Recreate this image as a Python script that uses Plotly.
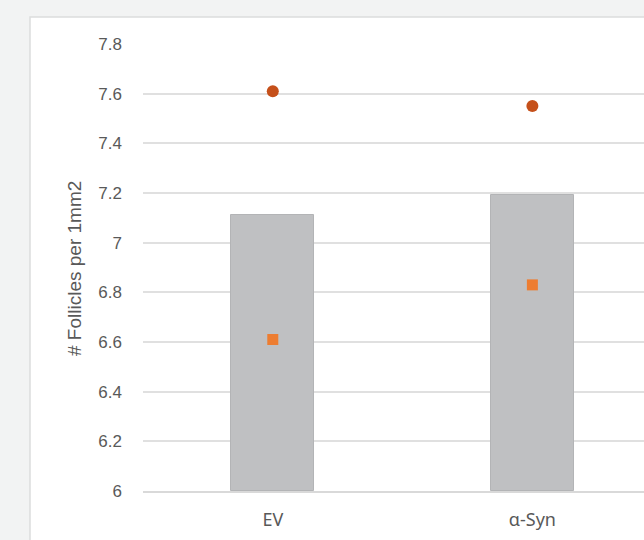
import plotly.graph_objects as go

# Follicle density per group
groups = ["EV", "α-Syn"]
bar_values = [7.11, 7.19]
circle_values = [7.61, 7.55]
square_values = [6.61, 6.83]

y_ticks = [6, 6.2, 6.4, 6.6, 6.8, 7, 7.2, 7.4, 7.6, 7.8]

W, H = 644, 540
L, R, T, B = 143, 0, 44, 49
plot_w = W - L - R
plot_h = H - T - B

fig = go.Figure()

fig.add_trace(go.Bar(
    x=groups, y=[v - 6 for v in bar_values], base=6,
    width=0.32,
    marker=dict(color="#bfc0c2", line=dict(color="#b3b4b6", width=1)),
    showlegend=False, hoverinfo="skip",
))
fig.add_trace(go.Scatter(
    x=groups, y=square_values, mode="markers",
    marker=dict(symbol="square", size=11, color="#ed7d31"),
    showlegend=False,
))
fig.add_trace(go.Scatter(
    x=groups, y=circle_values, mode="markers",
    marker=dict(symbol="circle", size=12, color="#c5501a"),
    showlegend=False,
))

# white card behind the chart
fig.add_shape(
    type="rect", xref="paper", yref="paper", layer="below",
    x0=(30 - L) / plot_w, x1=1.3,
    y0=-0.3, y1=(H - B - 17) / plot_h,
    fillcolor="white", line=dict(color="#dcdddd", width=1.5),
)

fig.add_annotation(
    text="# Follicles per 1mm2", textangle=-90,
    xref="paper", yref="paper",
    x=(74 - L) / plot_w, y=(H - B - 269) / plot_h,
    xanchor="center", yanchor="middle", showarrow=False,
    font=dict(family="Liberation Sans, Arial, sans-serif", size=19, color="#595959"),
)

fig.update_layout(
    width=W, height=H,
    margin=dict(l=L, r=R, t=T, b=B, pad=0),
    paper_bgcolor="#f2f3f3",
    plot_bgcolor="rgba(0,0,0,0)",
    bargap=0,
    xaxis=dict(
        type="category", range=[-0.5, 1.43],
        showgrid=False, zeroline=False,
        showline=True, linecolor="#d9d9d9", linewidth=1.5,
        ticks="", ticklabelstandoff=12,
        tickfont=dict(family="Noto Sans, sans-serif", size=18, color="#595959"),
    ),
    yaxis=dict(
        range=[6, 7.8], tickvals=y_ticks,
        showgrid=True, gridcolor="#e0e0e0", gridwidth=1.5,
        zeroline=False, showline=False,
        ticks="", ticklabelstandoff=20,
        tickfont=dict(family="Liberation Sans, Arial, sans-serif", size=17, color="#595959"),
    ),
)

fig.write_html("out.html")
